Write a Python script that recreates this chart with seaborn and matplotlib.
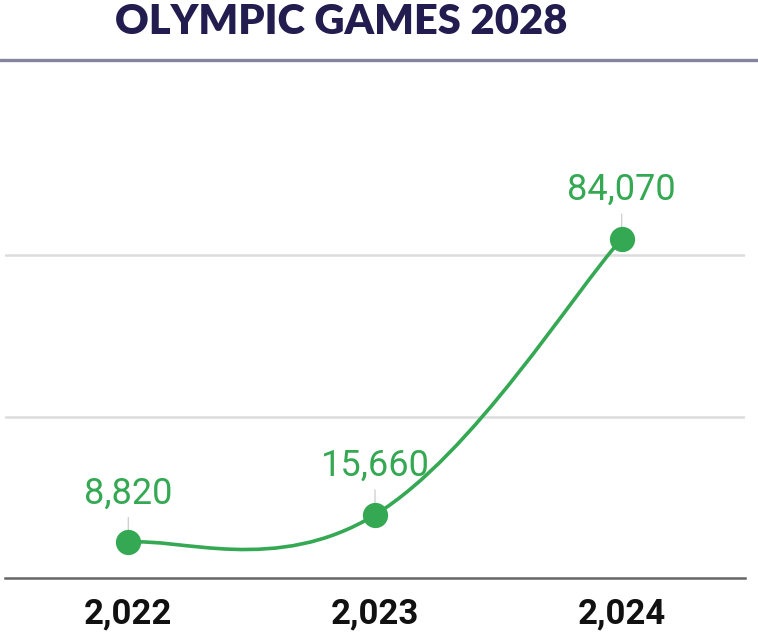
import numpy as np
import seaborn as sns
import matplotlib.pyplot as plt
from matplotlib.path import Path
from matplotlib.patches import PathPatch
from matplotlib.lines import Line2D
from matplotlib.ticker import StrMethodFormatter

years = [2022, 2023, 2024]
values = [8820, 15660, 84070]
title = "OLYMPIC GAMES 2028"

green = "#34a853"
navy = "#221c4f"

sns.set_theme(style="white")
plt.rcParams["font.family"] = ["Roboto", "DejaVu Sans"]

fig = plt.figure(figsize=(7.58, 6.35), dpi=100)
ax = fig.add_axes([5 / 758, 1 - 578 / 635, 740 / 758, 484 / 635])

# smooth line through the points (catmull-rom style bezier segments)
x = np.array(years, dtype=float)
y = np.array(values, dtype=float)
k = 1 / 5
verts = [(x[0], y[0])]
codes = [Path.MOVETO]
for i in range(len(x) - 1):
    x0, y0 = (x[i - 1], y[i - 1]) if i > 0 else (x[i], y[i])
    x3, y3 = (x[i + 2], y[i + 2]) if i + 2 < len(x) else (x[i + 1], y[i + 1])
    c1 = (x[i] + (x[i + 1] - x0) * k, y[i] + (y[i + 1] - y0) * k)
    c2 = (x[i + 1] - (x3 - x[i]) * k, y[i + 1] - (y3 - y[i]) * k)
    verts += [c1, c2, (x[i + 1], y[i + 1])]
    codes += [Path.CURVE4] * 3
ax.add_patch(PathPatch(Path(verts, codes), fill=False, edgecolor=green,
                       lw=2.6, zorder=3, capstyle="round"))

sns.scatterplot(x=years, y=values, ax=ax, s=330, color=green,
                edgecolor=green, linewidth=0, zorder=4)

for xv, yv in zip(years, values):
    ax.annotate(f"{yv:,}", xy=(xv, yv), xytext=(0, 28),
                textcoords="offset points", ha="center", va="baseline",
                fontsize=26, color=green,
                arrowprops=dict(arrowstyle="-", color="#d0d0d0", lw=1,
                                shrinkA=2, shrinkB=8))

ax.set_xlim(2021.5, 2024.5)
ax.set_ylim(0, 120000)
ax.set_xticks(years)
ax.xaxis.set_major_formatter(StrMethodFormatter("{x:,.0f}"))
ax.set_yticks([40000, 80000])
ax.set_yticklabels([])
ax.yaxis.grid(True, color="#dcdcdc", lw=1.8)
ax.tick_params(axis="x", length=0, pad=14, labelsize=25, labelcolor="#111111")
for lab in ax.get_xticklabels():
    lab.set_fontweight("bold")
ax.tick_params(axis="y", length=0)
for side in ["top", "left", "right"]:
    ax.spines[side].set_visible(False)
ax.spines["bottom"].set_color("#666666")
ax.spines["bottom"].set_linewidth(1.8)

fig.text(341 / 758, 1 - 22 / 635, title, ha="center", va="center",
         fontsize=30, fontweight="heavy", color=navy, family=["Lato", "DejaVu Sans"])
fig.add_artist(Line2D([0, 1], [1 - 60 / 635] * 2, color="#85849c", lw=2.4,
                      transform=fig.transFigure))

fig.savefig("out.png", dpi=100)
